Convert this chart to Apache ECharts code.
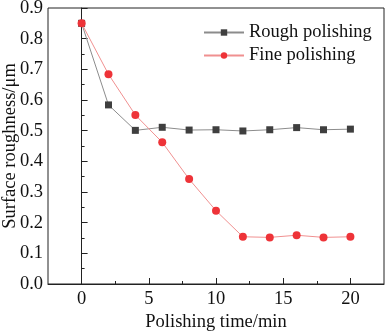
<!DOCTYPE html>
<html>
<head>
<meta charset="utf-8">
<script src="https://cdn.jsdelivr.net/npm/echarts@6/dist/echarts.min.js"></script>
<style>
  html, body { margin: 0; padding: 0; background: #fff; }
  #chart { width: 392px; height: 335px; }
</style>
</head>
<body>
<div id="chart"></div>
<script>
var times = [0, 2, 4, 6, 8, 10, 12, 14, 16, 18, 20];
var roughVals = [0.85, 0.584, 0.501, 0.511, 0.502, 0.503, 0.499, 0.503, 0.510, 0.503, 0.505];
var fineVals = [0.85, 0.684, 0.551, 0.462, 0.342, 0.239, 0.154, 0.152, 0.159, 0.152, 0.154];
var xMajor = [0, 5, 10, 15, 20];
var xMinor = [2.5, 7.5, 12.5, 17.5];

var font = 'Liberation Serif';
var chart = echarts.init(document.getElementById('chart'));

function pairs(xs, ys) {
  return xs.map(function (x, i) { return [x, ys[i]]; });
}

chart.setOption({
  animation: false,
  textStyle: { fontFamily: font },
  grid: {
    left: 48, right: 8, top: 8, bottom: 51,
    outerBoundsMode: 'none', containLabel: false,
    show: true, borderColor: '#222', borderWidth: 1
  },
  legend: {
    orient: 'vertical',
    left: 198, top: 18,
    itemWidth: 40, itemHeight: 8, itemGap: 4,
    textStyle: { fontFamily: font, fontSize: 18.5, color: '#111' },
    data: ['Rough polishing', 'Fine polishing']
  },
  xAxis: [{
    type: 'value', min: -2.5, max: 22.5,
    name: 'Polishing time/min', nameLocation: 'middle', nameGap: 29,
    nameMoveOverlap: false,
    nameTextStyle: { fontFamily: font, fontSize: 18.5, color: '#111' },
    axisLine: { lineStyle: { color: '#222' } },
    axisTick: { inside: true, length: 6, customValues: xMajor, lineStyle: { color: '#222' } },
    axisLabel: { customValues: xMajor, fontFamily: font, fontSize: 18.5, color: '#111', margin: 6 },
    splitLine: { show: false }
  }, {
    type: 'value', min: -2.5, max: 22.5, position: 'bottom',
    axisLine: { show: false },
    axisTick: { inside: true, length: 3, customValues: xMinor, lineStyle: { color: '#222' } },
    axisLabel: { show: false },
    splitLine: { show: false }
  }],
  yAxis: {
    type: 'value', min: 0, max: 0.9, interval: 0.1,
    name: 'Surface roughness/\u03bcm', nameLocation: 'middle', nameGap: 28,
    nameMoveOverlap: false,
    nameTextStyle: { fontFamily: font, fontSize: 18.5, color: '#111' },
    axisLine: { show: true, lineStyle: { color: '#222' } },
    axisTick: { inside: true, length: 6, lineStyle: { color: '#222' } },
    minorTick: { show: true, splitNumber: 2, length: 3, lineStyle: { color: '#222' } },
    axisLabel: {
      fontFamily: font, fontSize: 18.5, color: '#111', margin: 5,
      formatter: function (v) { return v.toFixed(1); }
    },
    splitLine: { show: false }
  },
  series: [{
    name: 'Rough polishing', type: 'line',
    data: pairs(times, roughVals),
    symbol: 'rect', symbolSize: 7,
    itemStyle: { color: '#3f3f3f' },
    lineStyle: { color: '#8c8c8c', width: 1 },
    z: 2
  }, {
    name: 'Fine polishing', type: 'line',
    data: pairs(times, fineVals),
    symbol: 'circle', symbolSize: 8,
    itemStyle: { color: '#ee3338' },
    lineStyle: { color: '#f09090', width: 1 },
    z: 3
  }]
});
</script>
</body>
</html>
